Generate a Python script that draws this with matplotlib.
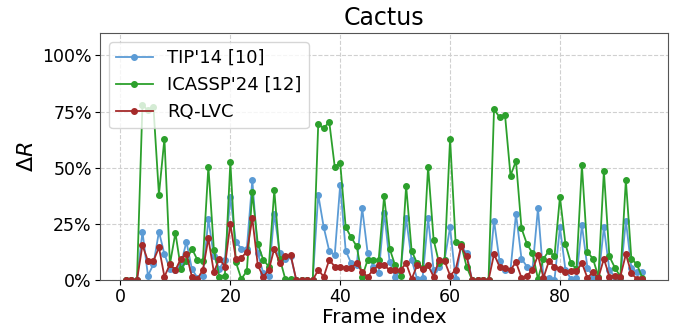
import matplotlib
matplotlib.use("Agg")
import matplotlib.pyplot as plt
from matplotlib.ticker import PercentFormatter
import numpy as np

frames = np.arange(1, 96)

# delta R in percent
tip14 = [0, 0, 0, 21.5, 2, 7, 21.5, 11.5, 5, 4.5,
         7, 17, 5, 1, 2, 27, 10.5, 5, 9, 37,
         17, 14, 14, 44.5, 12, 3, 2, 29.5, 12, 9.5,
         10.5, 0, 0, 0, 0, 38, 23.5, 13, 11, 42.5,
         13, 7.5, 6.5, 32, 12, 6, 3, 30, 8, 1.5,
         4.5, 27.5, 9, 0.5, 1, 27.5, 4.5, 6, 9, 23.5,
         0.5, 15, 12, 0, 0, 0, 0, 26.5, 8.5, 4.5,
         4.5, 29.5, 9.5, 6, 5, 32, 1, 1, 0, 23.5,
         4.5, 0.5, 1, 24.5, 5.5, 1.5, 0.5, 23.5, 4.5, 1.5,
         1, 26.5, 5.5, 3.5, 3.5]

icassp24 = [0, 0, 0, 78, 75.5, 77, 38, 63, 7, 21,
            5, 8.5, 14, 9, 8.5, 50.5, 13.5, 1.5, 2, 52.5,
            8, 0.5, 4, 39, 16, 9, 6, 40, 9.5, 0.5,
            0.5, 0, 0, 0, 0, 69.5, 67.5, 70.5, 50.5, 52,
            23.5, 19, 15, 1.5, 9, 9, 9, 37.5, 14, 6.5,
            2, 42, 13, 7.5, 5.5, 50.5, 18, 7.5, 9, 63,
            17, 16, 6, 0, 0, 0, 0, 76, 72.5, 73.5,
            46.5, 53, 23, 16, 12, 0.5, 9.5, 13, 10.5, 37,
            16, 7.5, 5, 51, 12.5, 9.5, 1.5, 48.5, 10.5, 5.5,
            1.5, 44.5, 9.5, 7, 1]

rqlvc = [0, 0, 0, 15.5, 8.5, 8.5, 14.5, 1.5, 7, 4.5,
         9.5, 11.5, 1.5, 0.5, 4.5, 18.5, 3.5, 9.5, 6, 25,
         9.5, 10, 12.5, 27.5, 6.5, 1.5, 4.5, 14, 7.5, 10.5,
         11, 0, 0, 0, 0, 4.5, 1.5, 9, 6, 6,
         5.5, 5.5, 7.5, 3.5, 1.5, 4.5, 6.5, 6.5, 4.5, 4.5,
         4.5, 7.5, 0.5, 6.5, 5, 6.5, 1.5, 9, 8.5, 2,
         4.5, 15, 10.5, 0, 0, 0, 0, 11.5, 6, 5.5,
         4.5, 8, 1, 2, 4.5, 11, 1, 8.5, 6, 5,
         3.5, 4, 4, 7.5, 1, 3.5, 1, 9.5, 1.5, 2,
         1.5, 11.5, 3, 0.5, 0.5]

fig = plt.figure(figsize=(6.86, 3.26), dpi=100)
ax = fig.add_axes([0.146, 0.141, 0.828, 0.758])

ax.plot(frames, tip14, color="#5b9bd5", marker="o", markersize=4, lw=1.3, label="TIP'14 [10]")
ax.plot(frames, icassp24, color="#2ca02c", marker="o", markersize=4, lw=1.3, label="ICASSP'24 [12]")
ax.plot(frames, rqlvc, color="#a52a2a", marker="o", markersize=4, lw=1.3, label="RQ-LVC")

ax.set_ylim(0, 110)
ax.set_yticks([0, 25, 50, 75, 100])
ax.yaxis.set_major_formatter(PercentFormatter(100, decimals=0))
ax.set_xticks([0, 20, 40, 60, 80])
ax.tick_params(labelsize=12.5, pad=2.5)
ax.grid(True, linestyle="--", color="#d0d0d0", lw=0.8)
ax.set_axisbelow(True)
for s in ax.spines.values():
    s.set_color("#555555")

ax.set_xlabel("Frame index", fontsize=14.5, labelpad=1)
ax.set_ylabel(r"$\Delta R$", fontsize=16)
ax.set_title("Cactus", fontsize=17)
ax.legend(loc="upper left", fontsize=13, framealpha=0.8)

fig.savefig("out.png", dpi=100)
